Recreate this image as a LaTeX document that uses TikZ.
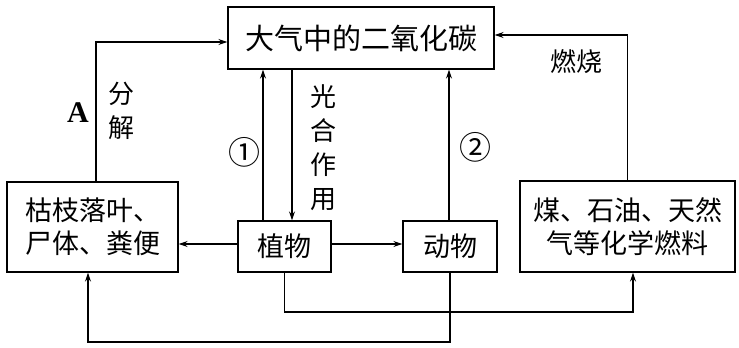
\documentclass[tikz,border=0pt]{standalone}
\usepackage{fontspec}
\newfontfamily\cjk{Noto Sans CJK SC}
\newfontfamily\lser{Liberation Serif}
\usetikzlibrary{arrows.meta}
\tikzset{
  box/.style={draw,line width=1.3pt,inner sep=0pt,font=\cjk\fontsize{27}{33}\selectfont,align=center},
  arr/.style={line width=1.2pt,-{Stealth[length=9pt,width=6pt]}},
  lbl/.style={font=\cjk\fontsize{26}{34}\selectfont,align=center,inner sep=0pt},
  circ/.style={font=\cjk\fontsize{32}{34}\selectfont,inner sep=0pt}
}
\begin{document}
\begin{tikzpicture}[x=1pt,y=-1pt]
\useasboundingbox (0,0) rectangle (739,348);
\node[box,minimum width=266pt,minimum height=62pt,font=\cjk\fontsize{29}{33}\selectfont] (co2) at (361,38) {大气中的二氧化碳};
\node[box,minimum width=171pt,minimum height=90pt] (litter) at (92.5,227) {枯枝落叶、\\尸体、粪便};
\node[box,minimum width=93pt,minimum height=51pt] (plant) at (284.5,246.5) {植物};
\node[box,minimum width=94pt,minimum height=51pt] (animal) at (450,246.5) {动物};
\node[box,minimum width=215pt,minimum height=91pt] (fossil) at (627.5,226.5) {煤、石油、天然\\气等化学燃料};
% decomposition
\draw[arr] ([xshift=3.5pt]litter.north) |- ([yshift=-4pt]co2.west);
% respiration 1
\draw[arr] ([xshift=-21.5pt]plant.north) -- ([xshift=-21.5pt]plant.north |- co2.south);
% photosynthesis
\draw[arr] ([xshift=7.5pt]plant.north |- co2.south) -- ([xshift=7.5pt]plant.north);
% respiration 2
\draw[arr] ([xshift=-1pt]animal.north) -- ([xshift=-1pt]animal.north |- co2.south);
% combustion
\draw[arr] (fossil.north) |- ([yshift=3pt]co2.east);
% plant to litter and animal
\draw[arr] ([yshift=2.5pt]plant.west) -- ([yshift=2.5pt]plant.west -| litter.east);
\draw[arr] ([yshift=2.5pt]plant.east) -- ([yshift=2.5pt]plant.east -| animal.west);
% bottom lines
\coordinate (pb) at (0,312);
\coordinate (ab) at (0,342);
\draw[arr] (plant.south) -- (plant.south |- pb) -| ([xshift=5.5pt]fossil.south);
\draw[arr] (animal.south) -- (animal.south |- ab) -| ([xshift=-4.5pt]litter.south);
% labels
\node[inner sep=0pt,font=\lser\bfseries\fontsize{30}{32}\selectfont] (la) at (78,113) {A};
\node[lbl] (lfj) at (121,111) {分\\解};
\node[circ] (l1) at (244,152) {①};
\node[lbl] (lgh) at (323,148) {光\\合\\作\\用};
\node[circ] (l2) at (475,147) {②};
\node[lbl] (lrs) at (576,62) {燃烧};
\end{tikzpicture}
\end{document}
